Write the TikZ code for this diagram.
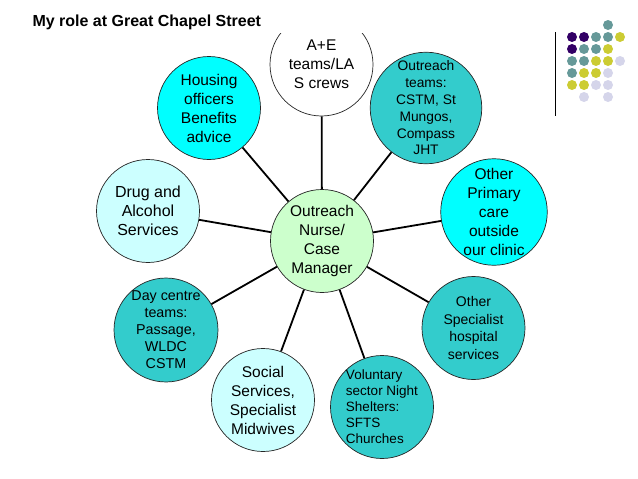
\documentclass[tikz,border=0pt]{standalone}
\usepackage{fontspec}
\setmainfont{Liberation Sans}
\usepackage{xcolor}
\usetikzlibrary{positioning}

\definecolor{brightcyan}{HTML}{00FFFF}
\definecolor{seateal}{HTML}{33CCCC}
\definecolor{palecyan}{HTML}{CCFFFF}
\definecolor{palegreen}{HTML}{CCFFCC}
\definecolor{dotpurple}{HTML}{330066}
\definecolor{dotteal}{HTML}{669999}
\definecolor{dotyellow}{HTML}{CCCC33}
\definecolor{dotlavender}{HTML}{D5D5EA}

\begin{document}
\begin{tikzpicture}[x=1pt, y=-1pt,
  bubble/.style={circle, draw=black!85, line width=0.7pt, inner sep=0pt,
    minimum size=103pt, align=center, font=\fontsize{15.5}{19}\selectfont},
  smalltext/.style={font=\fontsize{14}{17}\selectfont},
  link/.style={line width=1.8pt}]
\useasboundingbox (0,0) rectangle (638,479);

% title and the dots in the corner
\node[anchor=base west, font=\bfseries\fontsize{16}{19}\selectfont] (title) at (29,27) {My role at Great Chapel Street};
\draw[line width=1pt] (555,32) -- (555,116);
\foreach \dx/\dy/\dc in {608/25/dotteal,
  572/37/dotpurple, 584/37/dotpurple, 596/37/dotteal, 608/37/dotteal, 620/37/dotyellow,
  572/49/dotpurple, 584/49/dotteal, 596/49/dotteal, 608/49/dotyellow,
  572/61/dotteal, 584/61/dotteal, 596/61/dotyellow, 608/61/dotyellow, 620/61/dotlavender,
  572/73/dotteal, 584/73/dotyellow, 596/73/dotyellow, 608/73/dotlavender,
  572/85/dotyellow, 584/85/dotyellow, 596/85/dotlavender, 608/85/dotlavender,
  584/97/dotlavender, 608/97/dotlavender}
  \fill[\dc] (\dx,\dy) circle (5pt);

% the hub
\node[bubble, fill=palegreen] (hub) at (322,241) {Outreach\\Nurse/\\Case\\Manager};

% the services round it
\begin{scope}
\clip (250,33) rectangle (400,130);
\node[bubble, fill=white] (ae) at (321.5,64.5) {A+E\\teams/LA\\S crews};
\end{scope}
\node[bubble, fill=seateal, minimum size=96pt, font=\fontsize{13.8}{16.8}\selectfont] (outreach) at (426,108) {Outreach\\teams:\\CSTM, St\\Mungos,\\Compass\\JHT};
\node[bubble, fill=brightcyan] (primary) at (494,212) {Other\\Primary\\care\\outside\\our clinic};
\node[bubble, fill=seateal, smalltext, font=\fontsize{14}{17.5}\selectfont] (specialist) at (473.5,328) {Other\\Specialist\\hospital\\services};
\node[bubble, fill=seateal, align=left, font=\fontsize{13.5}{16}\selectfont] (voluntary) at (382,407) {Voluntary\\sector Night\\Shelters:\\SFTS\\Churches};
\node[bubble, fill=palecyan] (social) at (263,400) {Social\\Services,\\Specialist\\Midwives};
\node[bubble, fill=seateal, smalltext, font=\fontsize{14.3}{17}\selectfont] (daycentre) at (166,330) {Day centre\\teams:\\Passage,\\WLDC\\CSTM};
\node[bubble, fill=palecyan, font=\fontsize{16}{19}\selectfont] (drugs) at (148,211) {Drug and\\Alcohol\\Services};
\node[bubble, fill=brightcyan] (housing) at (209,108) {Housing\\officers\\Benefits\\advice};

% spokes
\foreach \target in {ae, outreach, primary, specialist, voluntary, social, daycentre, drugs, housing}
  \draw[link] (hub) -- (\target);
\end{tikzpicture}
\end{document}
